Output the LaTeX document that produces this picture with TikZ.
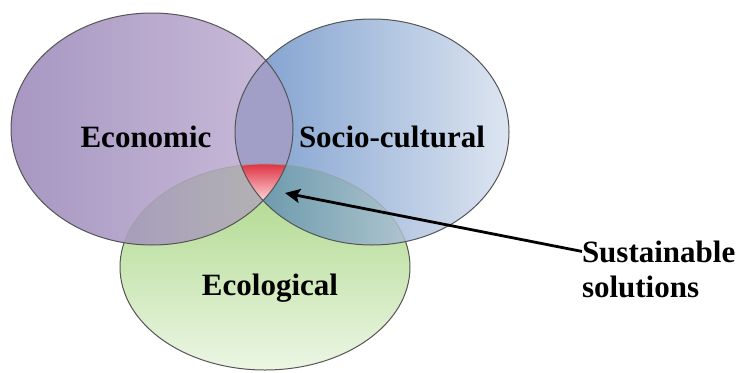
\documentclass[tikz,border=0pt]{standalone}
\usepackage{fontspec}
\setmainfont{Liberation Serif}
\usetikzlibrary{arrows.meta}
\definecolor{econL}{HTML}{A797C2}
\definecolor{econR}{HTML}{CBBDDA}
\definecolor{socL}{HTML}{7B9DCD}
\definecolor{socR}{HTML}{DDE5F1}
\definecolor{ecoT}{HTML}{A9D685}
\definecolor{ecoB}{HTML}{ECF6E4}
\definecolor{esOv}{HTML}{A19EC7}
\definecolor{eeL}{HTML}{A79EBC}
\definecolor{eeR}{HTML}{B3B1B3}
\definecolor{seL}{HTML}{6E9BAE}
\definecolor{seR}{HTML}{AEC5CE}
\definecolor{redT}{HTML}{DF3343}
\definecolor{redB}{HTML}{FFE0E4}
\definecolor{edge}{HTML}{555555}
\begin{document}
\begin{tikzpicture}[x=1pt,y=-1pt,
  lbl/.style={font=\fontsize{31}{34}\selectfont\bfseries, inner sep=0pt, outer sep=0pt},
  outl/.style={draw=edge, line width=1pt},
  faint/.style={draw=black!40, line width=0.8pt, draw opacity=0.6}]
\useasboundingbox (0,0) rectangle (743,372);
\def\econp{(152,129) ellipse [x radius=141pt, y radius=116pt]}
\def\socp{(372,132) ellipse [x radius=137pt, y radius=113pt]}
\def\ecop{(265,267) ellipse [x radius=145pt, y radius=103pt]}
% ecological base
\shade[top color=ecoT, bottom color=ecoB] \ecop;
\draw[outl] \ecop;
% economic and socio-cultural
\shade[left color=econL, right color=econR] \econp;
\shade[left color=socL, right color=socR] \socp;
% overlaps
\begin{scope}
  \clip \econp;
  \fill[esOv] \socp;
\end{scope}
\begin{scope}
  \clip \econp;
  \clip \ecop;
  \shade[left color=eeL, right color=eeR] (121,160) rectangle (265,250);
\end{scope}
\begin{scope}
  \clip \socp;
  \clip \ecop;
  \shade[left color=seL, right color=seR] (262,160) rectangle (410,250);
\end{scope}
\begin{scope}
  \clip \econp;
  \clip \socp;
  \clip \ecop;
  \shade[top color=redT, bottom color=redB] (235,164) rectangle (295,203);
\end{scope}
% faint top arc of ecological
\begin{scope}
  \clip \econp;
  \draw[faint] \ecop;
\end{scope}
\begin{scope}
  \clip \socp;
  \draw[faint] \ecop;
\end{scope}
% outlines
\draw[outl] \socp;
\draw[outl] \econp;
% labels
\node[lbl, anchor=base] (econ) at (146,147) {Economic};
\node[lbl, anchor=base] (soc) at (392,147) {Socio-cultural};
\node[lbl, anchor=base] (eco) at (270,295) {Ecological};
\node[lbl, anchor=base west] (sus1) at (582,262) {Sustainable};
\node[lbl, anchor=base west] (sus2) at (582,297) {solutions};
\coordinate (tip) at (285,193);
\draw[line width=2.8pt, -{Stealth[length=15pt, width=14pt, inset=3pt]}] (sus1.west) -- (tip);
\end{tikzpicture}
\end{document}
